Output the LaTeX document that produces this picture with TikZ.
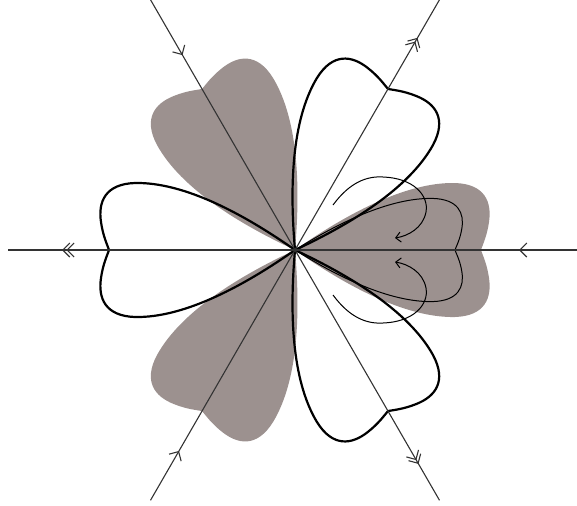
\documentclass[tikz,border=0pt]{standalone}
\usepackage{xcolor}
\usepackage{tikz}
\usetikzlibrary{arrows.meta, decorations.markings}
\definecolor{petalgray}{HTML}{9C918F}
\definecolor{axisgray}{HTML}{333333}

\begin{document}
\begin{tikzpicture}[
    x=0.5pt, y=0.5pt,
    axis/.style={draw=axisgray, line width=0.55pt},
    inward/.style={postaction={decorate}, decoration={markings,
        mark=at position #1 with {\arrow{Straight Barb[length=3.5pt, width=7pt]}}}},
    outward/.style={postaction={decorate}, decoration={markings,
        mark=at position #1 with {\arrow{Straight Barb[length=3.5pt, width=7pt, sep=-2pt] Straight Barb[length=3.5pt, width=7pt]}}}},
    pics/petal/.style={code={
      \path[pic actions] (0,0) .. controls (50,35) and (110,68) .. (160,67)
        .. controls (190,66) and (197,48) .. (194,28)
        .. controls (192,14) and (188,6) .. (186,0)
        .. controls (188,-6) and (192,-14) .. (194,-28)
        .. controls (197,-48) and (190,-66) .. (160,-67)
        .. controls (110,-68) and (50,-35) .. (0,0) -- cycle;
    }},
  ]
    \useasboundingbox (-295,-255) rectangle (282,250);
    \coordinate (O) at (0,0);

    % attracting petals
    \foreach \a in {0,120,240}
      \pic[rotate=\a, fill=petalgray] {petal};
    % repelling petals
    \foreach \a in {60,180,300}
      \pic[rotate=\a, draw=black, line width=1.1pt] {petal};
    \pic[xscale=0.86, yscale=0.77, draw=black, line width=0.5pt] {petal};

    % axes
    \coordinate (a0) at (0:282);
    \coordinate (a120) at (120:289);
    \coordinate (a240) at (240:289);
    \coordinate (r60) at (60:289);
    \coordinate (r180) at (180:287);
    \coordinate (r300) at (300:289);
    \draw[axis, inward=29pt] (a0) -- (O);
    \draw[axis, inward=32pt] (a120) -- (O);
    \draw[axis, inward=28.5pt] (a240) -- (O);
    \draw[axis, outward=122.5pt] (O) -- (r60);
    \draw[axis, outward=116.5pt] (O) -- (r180);
    \draw[axis, outward=123.5pt] (O) -- (r300);

    % orbits
    \coordinate (s1) at (38,45);
    \coordinate (e1) at (100,12);
    \coordinate (s2) at (38,-45);
    \coordinate (e2) at (100,-12);
    \draw[line width=0.5pt, -{Straight Barb[length=2.5pt, width=5pt]}] (s1)
      .. controls (55,68) and (72,74) .. (88,73)
      .. controls (118,72) and (134,55) .. (131,38)
      .. controls (128,22) and (113,14) .. (e1);
    \draw[line width=0.5pt, -{Straight Barb[length=2.5pt, width=5pt]}] (s2)
      .. controls (55,-68) and (72,-74) .. (88,-73)
      .. controls (118,-72) and (134,-55) .. (131,-38)
      .. controls (128,-22) and (113,-14) .. (e2);
  \end{tikzpicture}
\end{document}
